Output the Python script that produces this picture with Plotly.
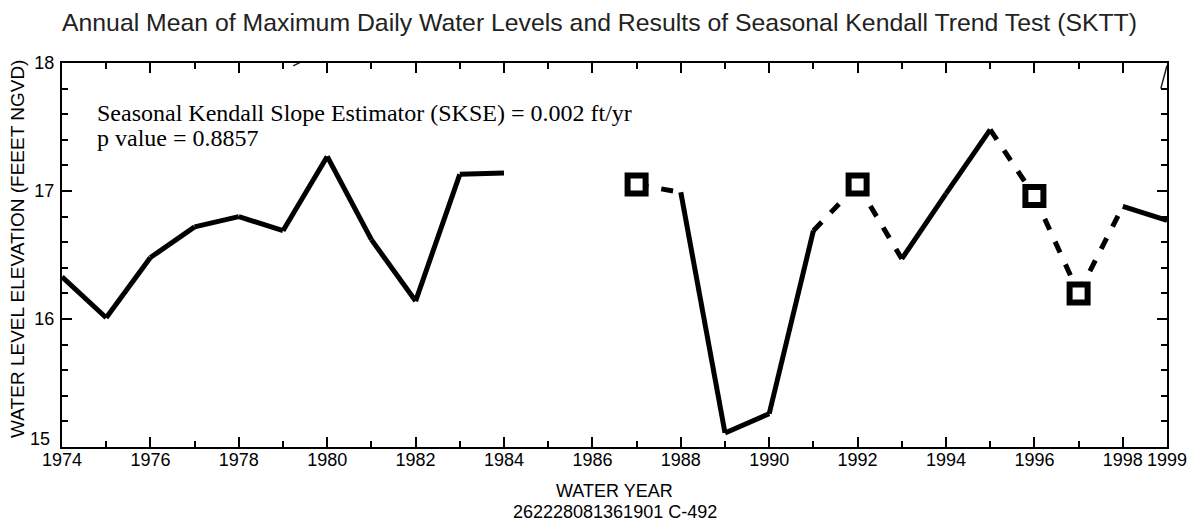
import plotly.graph_objects as go

# annual mean of maximum daily water level, ft NGVD (None = no record)
years = list(range(1974, 2000))
levels = [16.33, 16.01, 16.48, 16.72, 16.80, 16.69, 17.27, 16.62, 16.14, 17.13,
          17.14, None, None, 17.05, 16.99, 15.11, 15.26, 16.69, 17.05, 16.47,
          16.98, 17.48, 16.96, 16.20, 16.88, 16.77]
estimated_years = [1987, 1992, 1996, 1997]

# stray fragments of the SKSE trend line left on the frame
trend_a_x = [1979.23, 1979.45]
trend_a_y = [17.977, 18.016]
trend_b_x = [1998.86, 1999.0]
trend_b_y = [17.80, 17.98]

x_tick_vals = [1974, 1976, 1978, 1980, 1982, 1984, 1986, 1988, 1990, 1992,
               1994, 1996, 1998, 1999]
y_tick_vals = [15, 16, 17, 18]
y_tick_text = ["", "16", "17", "18"]   # "15" is drawn a little higher, below

title_text = ("Annual Mean of Maximum Daily Water Levels and Results of "
              "Seasonal Kendall Trend Test (SKTT)")
note_lines = ["Seasonal Kendall Slope Estimator (SKSE) = 0.002 ft/yr",
              "p value = 0.8857"]
x_title_lines = ["WATER YEAR", "262228081361901 C-492"]
y_title = "WATER LEVEL ELEVATION (FEEET NGVD)"

SANS = "Liberation Sans, Arial, sans-serif"
SERIF = "Liberation Serif, Times New Roman, serif"

fig = go.Figure()

# split the record into solid (measured) and dashed (estimated) pieces
for i in range(len(years) - 1):
    y0, y1 = levels[i], levels[i + 1]
    if y0 is None or y1 is None:
        continue
    est = years[i] in estimated_years or years[i + 1] in estimated_years
    fig.add_trace(go.Scatter(
        x=[years[i], years[i + 1]], y=[y0, y1], mode="lines",
        line=dict(color="black", width=5, dash="12px,13px" if est else "solid"),
        showlegend=False, hoverinfo="skip"))

est_y = [levels[years.index(yr)] for yr in estimated_years]
fig.add_trace(go.Scatter(
    x=estimated_years, y=est_y, mode="markers",
    marker=dict(symbol="square", size=18, color="white",
                line=dict(width=6, color="black")),
    showlegend=False))

for tx, ty in [(trend_a_x, trend_a_y), (trend_b_x, trend_b_y)]:
    fig.add_trace(go.Scatter(x=tx, y=ty, mode="lines", cliponaxis=False,
                             line=dict(color="#222", width=1.5),
                             showlegend=False, hoverinfo="skip"))

# text block, one annotation per line to keep the tight line spacing
for txt, yy in zip(note_lines, [0.870, 0.805]):
    fig.add_annotation(text=txt, xref="paper", yref="paper",
                       x=0.030, y=yy, xanchor="left", yanchor="middle",
                       showarrow=False,
                       font=dict(family=SERIF, size=24, color="black"))

for txt, yy in zip(x_title_lines, [-0.115, -0.170]):
    fig.add_annotation(text=txt, xref="paper", yref="paper",
                       x=0.5, y=yy, xanchor="center", yanchor="middle",
                       showarrow=False,
                       font=dict(family=SANS, size=18, color="black"))

fig.add_annotation(text=y_title, xref="paper", yref="paper",
                   x=-0.0398, y=0.516, xanchor="center", yanchor="middle",
                   textangle=-90, showarrow=False,
                   font=dict(family=SANS, size=19, color="black"))

fig.add_annotation(text="15", xref="paper", yref="paper",
                   x=-0.009, y=0.020, xanchor="right", yanchor="middle",
                   showarrow=False,
                   font=dict(family=SANS, size=18, color="black"))

axis_common = dict(
    showline=True, linecolor="black", linewidth=2, mirror="ticks",
    ticks="inside", ticklen=10, tickwidth=2, tickcolor="black",
    showgrid=False, zeroline=False, automargin=False,
    tickfont=dict(family=SANS, size=18, color="black"),
)

fig.update_xaxes(
    range=[1974, 1999], tickvals=x_tick_vals, ticklabelstandoff=-5,
    ticklabeloverflow="allow",
    minor=dict(dtick=1, tick0=1974, ticks="inside", ticklen=6, tickwidth=2,
               tickcolor="black"),
    **axis_common)
fig.update_yaxes(
    range=[15, 18], tickvals=y_tick_vals, ticktext=y_tick_text,
    ticklabelstandoff=2,
    minor=dict(dtick=0.2, tick0=15, ticks="inside", ticklen=6, tickwidth=2,
               tickcolor="black"),
    **axis_common)

fig.update_layout(
    width=1188, height=522,
    margin=dict(l=62, r=21, t=63, b=75),
    paper_bgcolor="white", plot_bgcolor="white",
    title=dict(text=title_text, x=62 / 1188, xanchor="left", y=0.958,
               yanchor="middle",
               font=dict(family=SANS, size=24.8, color="#222")),
    showlegend=False,
)

# drop the default page margin so the figure sits at the window's corner
fig.write_html("out.html", config={"displayModeBar": False},
               post_script="document.body.style.margin='0';")
